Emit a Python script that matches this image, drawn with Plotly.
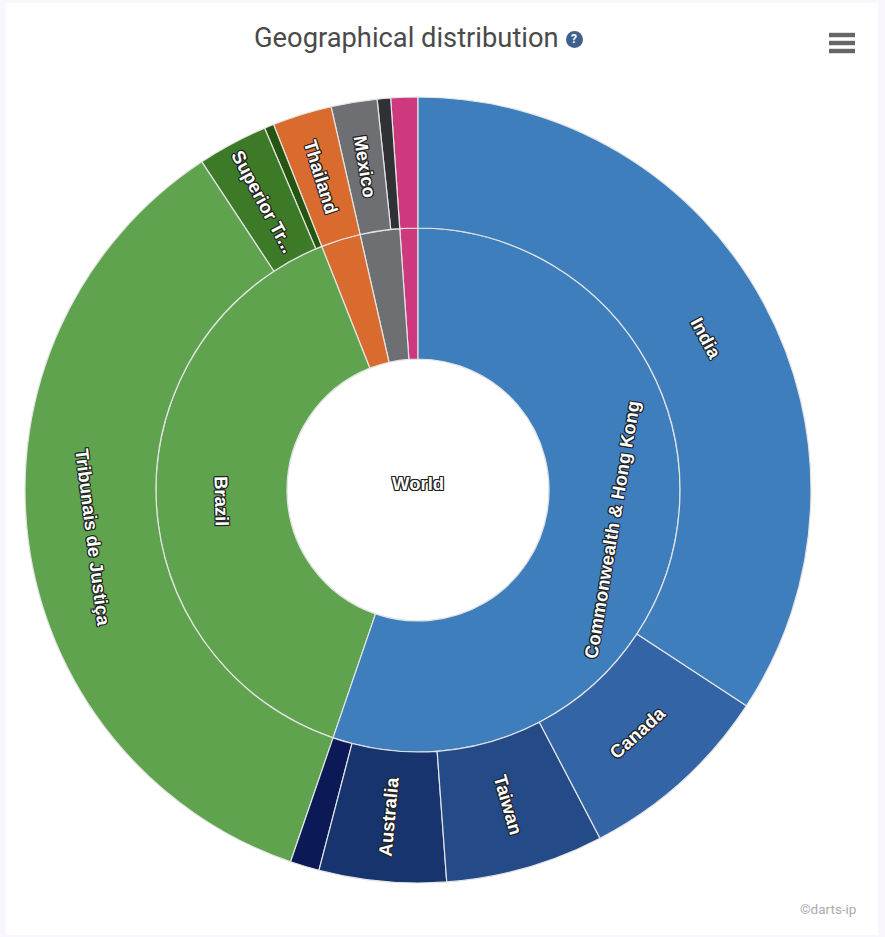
import math
import plotly.graph_objects as go

W, H = 885, 937
CX, CY, R = 418, 490, 393

root = "World"
regions = ["Commonwealth & Hong Kong", "Brazil", "Thailand", "Mexico", "Other region"]
region_colors = ["#3F7EBD", "#5FA34F", "#DA6B2F", "#6E6F72", "#CE387E"]

commonwealth_names = ["India", "Canada", "Taiwan", "Australia", "Other Commonwealth"]
commonwealth_values = [3425, 808, 650, 522, 120]
commonwealth_colors = ["#3F7EBD", "#3364A5", "#244B88", "#17346F", "#0B1A57"]

brazil_names = ["Tribunais de Justiça", "Superior Tr...", "Other Brazil"]
brazil_values = [3547, 289, 39]
brazil_colors = ["#5FA34F", "#3D7A27", "#255510"]

thailand_names = ["Thailand"]
thailand_values = [244]
thailand_colors = ["#DA6B2F"]

mexico_names = ["Mexico", "Other Mexico"]
mexico_values = [189, 55]
mexico_colors = ["#6E6F72", "#303134"]

other_names = ["Other"]
other_values = [111]
other_colors = ["#CE387E"]

title_text = "Geographical distribution"
credit_text = "©darts-ip"

radial_labels = {"Taiwan", "Australia", "Superior Tr...", "Thailand", "Mexico"}
hidden_labels = {"Other region", "Other Commonwealth", "Other Brazil", "Other Mexico", "Other"}
label_nudge_y = {"India": 4, "Commonwealth & Hong Kong": 7, "Brazil": 6, "Tribunais de Justiça": 6}
children = [
    (commonwealth_names, commonwealth_values, commonwealth_colors),
    (brazil_names, brazil_values, brazil_colors),
    (thailand_names, thailand_values, thailand_colors),
    (mexico_names, mexico_values, mexico_colors),
    (other_names, other_values, other_colors),
]

total = sum(sum(c[1]) for c in children)
ids, labels, parents, values, colors = [root], [root], [""], [total], ["#FFFFFF"]
# Plotly lays sectors out counterclockwise, so hand them over in reverse to read clockwise.
for reg, col, (names, vals, cols) in reversed(list(zip(regions, region_colors, children))):
    ids.append(reg); labels.append(reg); parents.append(root); values.append(sum(vals)); colors.append(col)
    for n, v, c in reversed(list(zip(names, vals, cols))):
        ids.append(reg + "/" + n); labels.append(n); parents.append(reg); values.append(v); colors.append(c)

fig = go.Figure(go.Sunburst(
    ids=ids, labels=labels, parents=parents, values=values,
    branchvalues="total", sort=False, rotation=90,
    textinfo="none", hoverinfo="label",
    leaf=dict(opacity=1),
    marker=dict(colors=colors, line=dict(color="#E4E4E4", width=1.2)),
    domain=dict(x=[(CX - R) / W, (CX + R) / W], y=[(H - CY - R) / H, (H - CY + R) / H]),
))

OUTLINE = "1px 0 0 #222, -1px 0 0 #222, 0 1px 0 #222, 0 -1px 0 #222, 1px 1px 0 #222, -1px -1px 0 #222, 1px -1px 0 #222, -1px 1px 0 #222"
label_font = dict(family="Liberation Sans, Arial, sans-serif", size=18.5, color="#FFFFFF", weight="bold", shadow=OUTLINE)


def xp(v): return v / W
def yp(v): return 1 - v / H


annotations = []


def place(label, start, span, ring):
    mid = start + span / 2
    deg = mid / total * 360
    r = R * (ring + 0.5) / 3
    x = CX + r * math.sin(math.radians(deg))
    y = CY - r * math.cos(math.radians(deg)) + label_nudge_y.get(label, 0)
    if label in radial_labels:
        rot = deg - 90 if deg < 180 else deg - 270
    else:
        rot = deg if (deg < 90) else (deg - 180 if deg < 270 else deg - 360)
    annotations.append(dict(text=label, x=xp(x), y=yp(y), xref="paper", yref="paper",
                            xanchor="center", yanchor="middle", showarrow=False,
                            textangle=rot, font=label_font))


start = 0
for reg, (names, vals, _) in zip(regions, children):
    if reg in ("Commonwealth & Hong Kong", "Brazil"):
        place(reg, start, sum(vals), 1)
    s = start
    for n, v in zip(names, vals):
        if n not in hidden_labels:
            place(n, s, v, 2)
        s += v
    start += sum(vals)

annotations.append(dict(text=root, x=xp(CX), y=yp(CY - 7), xref="paper", yref="paper", showarrow=False,
                        xanchor="center", yanchor="middle", font=label_font))
annotations.append(dict(text=title_text, x=xp(406), y=yp(38), xref="paper", yref="paper", showarrow=False,
                        xanchor="center", yanchor="middle",
                        font=dict(family="Roboto, sans-serif", size=27.3, color="#4A4A4A")))
annotations.append(dict(text="?", x=xp(574), y=yp(39.5), xref="paper", yref="paper", showarrow=False,
                        xanchor="center", yanchor="middle",
                        font=dict(family="Roboto, sans-serif", size=12, color="#FFFFFF", weight="bold")))
annotations.append(dict(text=credit_text, x=xp(858), y=yp(909), xref="paper", yref="paper", showarrow=False,
                        xanchor="right", yanchor="middle",
                        font=dict(family="Roboto, sans-serif", size=13.5, color="#ABABAB")))

shapes = [dict(type="rect", xref="paper", yref="paper", layer="below",
               x0=xp(6), x1=xp(878), y0=yp(3), y1=yp(935), fillcolor="#FFFFFF", line=dict(width=0)),
          dict(type="circle", xref="paper", yref="paper", x0=xp(566), x1=xp(583), y0=yp(31), y1=yp(48),
               fillcolor="#3F5F8F", line=dict(width=0))]
for bar_y in (35, 43, 51):
    shapes.append(dict(type="rect", xref="paper", yref="paper", x0=xp(829), x1=xp(855),
                       y0=yp(bar_y - 2.2), y1=yp(bar_y + 2.2), fillcolor="#666666", line=dict(width=0)))

fig.update_layout(width=W, height=H, margin=dict(l=0, r=0, t=0, b=0), paper_bgcolor="#FAF6FE",
                  annotations=annotations, shapes=shapes, showlegend=False)
fig.write_html("out.html", config=dict(displayModeBar=False),
               post_script="document.body.style.margin='0';document.body.style.overflow='hidden';")
